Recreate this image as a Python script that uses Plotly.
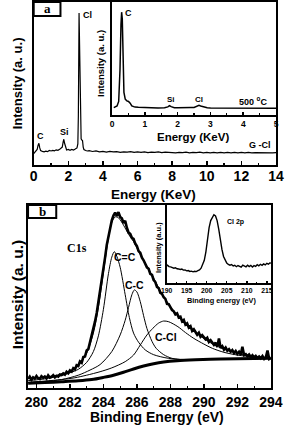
import plotly.graph_objects as go

W, H = 296, 426

# ---------------- Panel a: EDS of G-Cl (main) ----------------
eds_x = [0.0, 0.1, 0.2, 0.25, 0.3, 0.35, 0.4, 0.5, 0.6, 0.7, 0.8, 0.9, 1.0, 1.1, 1.2, 1.3, 1.4, 1.5,
         1.6, 1.65, 1.7, 1.74, 1.78, 1.85, 1.9, 2.0, 2.1, 2.2, 2.3, 2.4, 2.5, 2.55, 2.58, 2.62, 2.66,
         2.7, 2.74, 2.78, 2.82, 2.86, 2.9, 3.0, 3.1, 3.2,
         3.4, 3.6, 3.8, 4.0, 4.2, 4.4, 4.6, 4.8, 5.0, 5.2, 5.4, 5.6, 5.8, 6.0, 6.2, 6.4, 6.6, 6.8,
         7.0, 7.2, 7.4, 7.6, 7.8, 8.0, 8.2, 8.4, 8.6, 8.8, 9.0, 9.2, 9.4, 9.6, 9.8, 10.0, 10.2,
         10.4, 10.6, 10.8, 11.0, 11.2, 11.4, 11.6, 11.8, 12.0, 12.2, 12.4, 12.6, 12.8, 13.0, 13.2,
         13.4, 13.6, 13.8, 14.0]
eds_y = [7.0, 8.4, 9.5, 12.0, 13.3, 10.5, 8.8, 8.4, 8.1, 8.5, 8.2, 8.9, 8.6, 9.0, 8.7, 9.3, 9.0, 9.6,
         10.2, 11.0, 14.0, 15.8, 13.5, 10.0, 9.2, 9.5, 9.0, 9.6, 9.2, 9.8, 10.5, 13.0, 30.0, 93.3, 60.0,
         22.0, 16.0, 15.3, 15.0, 11.0, 9.5, 8.9, 8.6, 8.8,
         8.3, 8.6, 8.1, 8.4, 7.9, 8.3, 8.0, 8.2, 7.8, 8.1, 7.9, 8.2, 7.7, 8.0, 7.8, 8.1, 7.6, 7.9,
         7.7, 8.0, 7.6, 7.9, 7.7, 7.9, 7.5, 7.8, 7.6, 7.9, 7.5, 7.8, 7.6, 7.9, 7.5, 7.8, 7.4,
         7.7, 7.5, 7.8, 7.4, 7.7, 7.5, 7.8, 7.4, 7.7, 7.5, 7.8, 7.4, 7.6, 7.5, 7.7,
         7.4, 7.6, 7.5, 7.6]

# ---------------- Panel a inset: EDS at 500 C ----------------
ins_a_x = [0.05, 0.1, 0.15, 0.2, 0.24, 0.27, 0.29, 0.31, 0.33, 0.36, 0.4, 0.45, 0.5, 0.55, 0.6, 0.7,
           0.8, 0.9, 1.0, 1.2, 1.4, 1.6, 1.7, 1.75, 1.8, 1.9, 2.0, 2.2, 2.3, 2.4, 2.5, 2.6, 2.65, 2.7,
           2.8, 2.9, 3.0, 3.5, 4.0, 4.5, 5.0]
ins_a_y = [6.5, 7.0, 8.0, 12.0, 40.0, 80.0, 91.0, 85.0, 55.0, 20.0, 14.0, 12.5, 12.0, 10.5, 8.0, 7.0,
           6.8, 6.6, 6.5, 6.4, 6.3, 6.4, 7.2, 8.3, 7.4, 6.5, 6.4, 6.8, 7.0, 6.6, 6.7, 7.5, 8.5, 8.0,
           7.0, 6.4, 6.1, 6.0, 6.0, 6.0, 6.0]

# ---------------- Panel b: C1s XPS ----------------
xps_x0, xps_dx = 279.5, 0.1
xps_raw = [5.0, 6.2, 4.6, 5.8, 5.1, 6.5, 5.3, 4.9, 6.4, 5.6,
           6.3, 5.2, 6.9, 5.7, 6.1, 7.0, 5.8, 6.6, 6.2, 7.4,
           7.1, 8.0, 7.3, 8.9, 8.1, 9.6, 9.0, 10.8, 10.1, 12.4,
           12.0, 14.5, 13.8, 16.9, 17.2, 20.5, 21.3, 25.0, 27.6, 31.5,
           36.4, 41.0, 46.8, 52.3, 58.5, 65.0, 71.4, 78.2, 83.0, 88.5,
           91.6, 94.2, 95.8, 94.0, 96.1, 93.5, 92.7, 90.2, 91.4, 87.6,
           85.0, 84.3, 82.1, 81.5, 78.9, 77.6, 74.8, 73.9, 71.2, 69.8,
           68.0, 65.9, 65.1, 62.4, 61.8, 59.0, 57.9, 55.2, 54.6, 52.0,
           51.4, 49.6, 48.7, 46.0, 45.8, 43.9, 42.6, 41.9, 40.2, 40.8,
           38.5, 38.9, 36.4, 37.2, 34.6, 35.3, 33.0, 33.8, 31.2, 32.1,
           30.4, 29.1, 30.2, 28.0, 28.9, 27.4, 26.6, 27.5, 25.2, 26.1,
           24.9, 23.6, 24.8, 22.4, 27.0, 21.9, 22.8, 21.0, 22.1, 20.4,
           21.2, 19.8, 20.7, 19.1, 20.2, 18.6, 19.8, 18.2, 22.5, 18.0,
           18.5, 17.4, 18.3, 16.9, 17.9, 16.6, 17.5, 16.4, 17.2, 16.2,
           17.4, 15.9, 16.8, 20.5, 15.8, 16.3]

env_x = [279.5, 280.5, 281.5, 282.0, 282.5, 283.0, 283.4, 283.7, 284.0, 284.3, 284.5, 284.7, 284.9,
         285.2, 285.5, 285.8, 286.2, 286.6, 287.0, 287.5, 288.0, 288.5, 289.0, 289.5, 290.0, 290.5,
         291.0, 291.5, 292.0, 292.5, 293.0, 294.0]
env_y = [5.2, 5.9, 7.6, 9.2, 12.4, 19.0, 30.0, 44.0, 63.0, 82.0, 90.5, 93.5, 93.0,
         89.0, 84.0, 80.0, 73.0, 66.5, 60.0, 51.5, 44.5, 39.0, 34.5, 30.5, 27.0, 24.2,
         22.0, 20.3, 19.0, 18.0, 17.2, 16.2]

cc2_x = [279.5, 280.5, 281.5, 282.0, 282.5, 283.0, 283.4, 283.7, 284.0, 284.3, 284.5, 284.65, 284.8,
         285.0, 285.3, 285.55, 285.8, 286.1, 286.5, 287.0, 287.9, 289.4, 291.0, 294.0]
cc2_y = [4.0, 5.0, 6.8, 8.3, 10.2, 14.0, 19.9, 28.5, 43.0, 62.5, 71.5, 74.5, 72.0,
         66.0, 51.0, 38.5, 30.0, 25.0, 20.8, 18.2, 16.2, 15.4, 15.8, 16.2]

cc_x = [279.5, 280.5, 281.5, 282.5, 283.2, 283.8, 284.5, 285.0, 285.3, 285.5, 285.7, 285.85, 286.0,
        286.2, 286.4, 286.6, 286.9, 287.15, 287.6, 288.1, 289.0, 291.0, 294.0]
cc_y = [3.0, 3.6, 4.6, 7.0, 9.8, 12.8, 19.9, 29.0, 37.0, 44.0, 51.0, 53.6, 52.5,
        47.2, 39.5, 32.5, 25.5, 21.7, 18.2, 16.2, 15.3, 15.8, 16.2]

ccl_x = [279.5, 280.5, 281.5, 282.3, 283.0, 283.8, 284.5, 285.3, 285.8, 286.2, 286.6, 286.95, 287.3,
         287.6, 287.9, 288.45, 288.9, 289.4, 290.0, 290.5, 291.2, 292.0, 293.0, 294.0]
ccl_y = [3.0, 3.8, 4.6, 5.6, 7.0, 8.9, 11.0, 14.4, 18.0, 23.5, 29.0, 32.6, 35.5,
         36.6, 36.2, 33.5, 30.3, 27.1, 24.0, 21.7, 19.5, 18.0, 16.9, 16.2]

bg_x = [279.5, 280.5, 281.5, 282.5, 283.3, 284.0, 284.6, 285.2, 285.8, 286.4, 287.0, 287.6, 288.4,
        289.5, 291.0, 294.0]
bg_y = [2.6, 3.0, 3.4, 3.9, 4.6, 5.8, 7.0, 8.6, 10.4, 12.0, 13.3, 14.2, 14.9, 15.4, 15.8, 16.2]

# ---------------- Panel b inset: Cl 2p ----------------
cl_x0, cl_dx = 189.4, 0.4
cl_y = [23.0, 21.5, 22.8, 21.0, 20.6, 19.8, 19.0, 19.6, 18.2, 18.0,
        17.3, 17.8, 16.5, 16.8, 15.6, 15.9, 14.8, 15.2, 14.3, 15.0,
        14.6, 15.8, 16.7, 19.0, 23.5, 29.0, 40.0, 58.0, 71.0, 80.0,
        85.0, 87.5, 86.0, 80.0, 69.0, 55.0, 43.0, 34.0, 28.5, 25.5,
        23.8, 22.9, 23.6, 21.8, 22.7, 20.9, 22.4, 21.2, 20.3, 23.0,
        21.5, 20.8, 22.9, 21.1, 22.6, 20.4, 22.2, 21.3, 23.5, 22.1,
        24.0, 22.6, 24.5, 23.2, 25.3, 24.1, 26.0, 25.0]


def px(x):
    return x / W


def py(y):
    return 1 - y / H


SANS = "Liberation Sans"
SERIF = "Liberation Serif"
BLK = "black"

fig = go.Figure()
# panel a
fig.add_trace(go.Scatter(x=eds_x, y=eds_y, mode="lines", line=dict(color=BLK, width=1.2),
                         xaxis="x", yaxis="y"))
fig.add_trace(go.Scatter(x=ins_a_x, y=ins_a_y, mode="lines", line=dict(color=BLK, width=1.5),
                         xaxis="x2", yaxis="y2"))
# panel b
fig.add_trace(go.Scatter(x0=xps_x0, dx=xps_dx, y=xps_raw, mode="lines",
                         line=dict(color=BLK, width=2.6), xaxis="x3", yaxis="y3"))
for xx, yy, w in [(env_x, env_y, 1.0), (cc2_x, cc2_y, 1.0), (cc_x, cc_y, 1.0),
                  (ccl_x, ccl_y, 1.0), (bg_x, bg_y, 3.0)]:
    fig.add_trace(go.Scatter(x=xx, y=yy, mode="lines", line=dict(color=BLK, width=w, shape="spline",
                                                                 smoothing=0.8),
                             xaxis="x3", yaxis="y3"))
fig.add_trace(go.Scatter(x0=cl_x0, dx=cl_dx, y=cl_y, mode="lines", line=dict(color=BLK, width=1.4),
                         xaxis="x4", yaxis="y4"))


def xax(domain, rng, dtick, minor, size, anchor, ticklen=4):
    return dict(domain=domain, range=rng, anchor=anchor, showline=True, mirror=True, linewidth=2,
                linecolor=BLK, ticks="inside", ticklen=ticklen, tickwidth=1.5, tickcolor=BLK,
                dtick=dtick, tick0=0, showgrid=False, zeroline=False,
                minor=dict(dtick=minor, ticks="inside", ticklen=ticklen * 0.6, tickwidth=1.2,
                           tickcolor=BLK),
                tickfont=dict(family=SANS, size=size, color=BLK, weight="bold"), fixedrange=True)


def yax(domain, anchor):
    return dict(domain=domain, range=[0, 100], anchor=anchor, showline=True, mirror=True,
                linewidth=2, linecolor=BLK, ticks="", showticklabels=False, showgrid=False,
                zeroline=False, fixedrange=True)


layout = dict(
    width=W, height=H, autosize=False, showlegend=False,
    margin=dict(l=0, r=0, t=0, b=0, pad=0),
    paper_bgcolor="white", plot_bgcolor="white",
    xaxis=xax([px(29.5), px(287.5)], [0, 14], 2, 1, 14, "y"),
    yaxis=yax([py(165), py(2)], "x"),
    xaxis2=xax([px(113), px(287.5)], [0, 5], 1, 0.5, 8.5, "y2", ticklen=3),
    yaxis2=yax([py(115), py(2)], "x2"),
    xaxis3=xax([px(23.5), px(282)], [279.5, 294], 2, 1, 14, "y3"),
    yaxis3=yax([py(388), py(205)], "x3"),
    xaxis4=xax([px(171), px(282)], [190, 216], 5, 2.5, 6.8, "y4", ticklen=2.5),
    yaxis4=yax([py(283), py(205)], "x4"),
)
layout["xaxis2"]["tick0"] = 0
layout["xaxis4"]["tick0"] = 190
layout["xaxis"]["ticklabelstandoff"] = -3

ann = []


def txt(t, x, y, size, xref="paper", yref="paper", family=SANS, bold=True, angle=0):
    ann.append(dict(text=t, x=x, y=y, xref=xref, yref=yref, xanchor="center", yanchor="middle",
                    showarrow=False, textangle=angle,
                    font=dict(family=family, size=size, color=BLK,
                              weight="bold" if bold else "normal")))


# axis titles
txt("Intensity (a. u.)", px(12), py(83), 13, angle=-90)
txt("Energy (KeV)", px(157), py(194), 13.5)
txt("Intensity (a. u.)", px(100), py(63), 9.5, angle=-90)
txt("Energy (KeV)", px(199), py(137), 11.5)
txt("Intensity (a. u.)", px(12), py(295), 15.5, angle=-90)
txt("Binding Energy (eV)", px(161), py(417), 14)
txt("Intensity (a.u.)", px(163), py(248), 7.5, angle=-90)
txt("Binding energy (eV)", px(229), py(300), 7.3)

# peak labels panel a
txt("C", 0.41, 17.8, 9, "x", "y")
txt("Si", 1.76, 20.5, 9, "x", "y")
txt("Cl", 3.12, 92, 9, "x", "y")
txt("G -Cl", 13.05, 12.3, 9, "x", "y")
txt("C", 0.49, 90, 9, "x2", "y2")
txt("Si", 1.8, 13.5, 8, "x2", "y2")
txt("Cl", 2.64, 13.5, 8, "x2", "y2")
txt("500 <sup>o</sup>C", 4.3, 12.0, 9, "x2", "y2")

# panel b labels
txt("C1s", 282.45, 76.5, 12, "x3", "y3", family=SERIF)
txt("C=C", 285.26, 71.6, 10.5, "x3", "y3")
txt("C-C", 285.88, 56.3, 10.5, "x3", "y3")
txt("C-Cl", 287.73, 27.9, 10.5, "x3", "y3")
txt("Cl 2p", 207.3, 78, 7, "x4", "y4")

# panel tags
txt("a", px(44), py(9), 13, family=SERIF)
txt("b", px(38.5), py(211.5), 13, family=SERIF)

shapes = [
    dict(type="rect", xref="paper", yref="paper", x0=px(29.5), x1=px(58), y0=py(16), y1=py(2),
         line=dict(color=BLK, width=2), fillcolor="rgba(0,0,0,0)", layer="above"),
    dict(type="rect", xref="paper", yref="paper", x0=px(23.5), x1=px(53.5), y0=py(218), y1=py(205),
         line=dict(color=BLK, width=2), fillcolor="rgba(0,0,0,0)", layer="above"),
]

layout["annotations"] = ann
layout["shapes"] = shapes
fig.update_layout(**layout)

fig.write_html("out.html", config={"displayModeBar": False, "staticPlot": True},
               post_script="document.body.style.margin='0';document.body.style.overflow='hidden';")
